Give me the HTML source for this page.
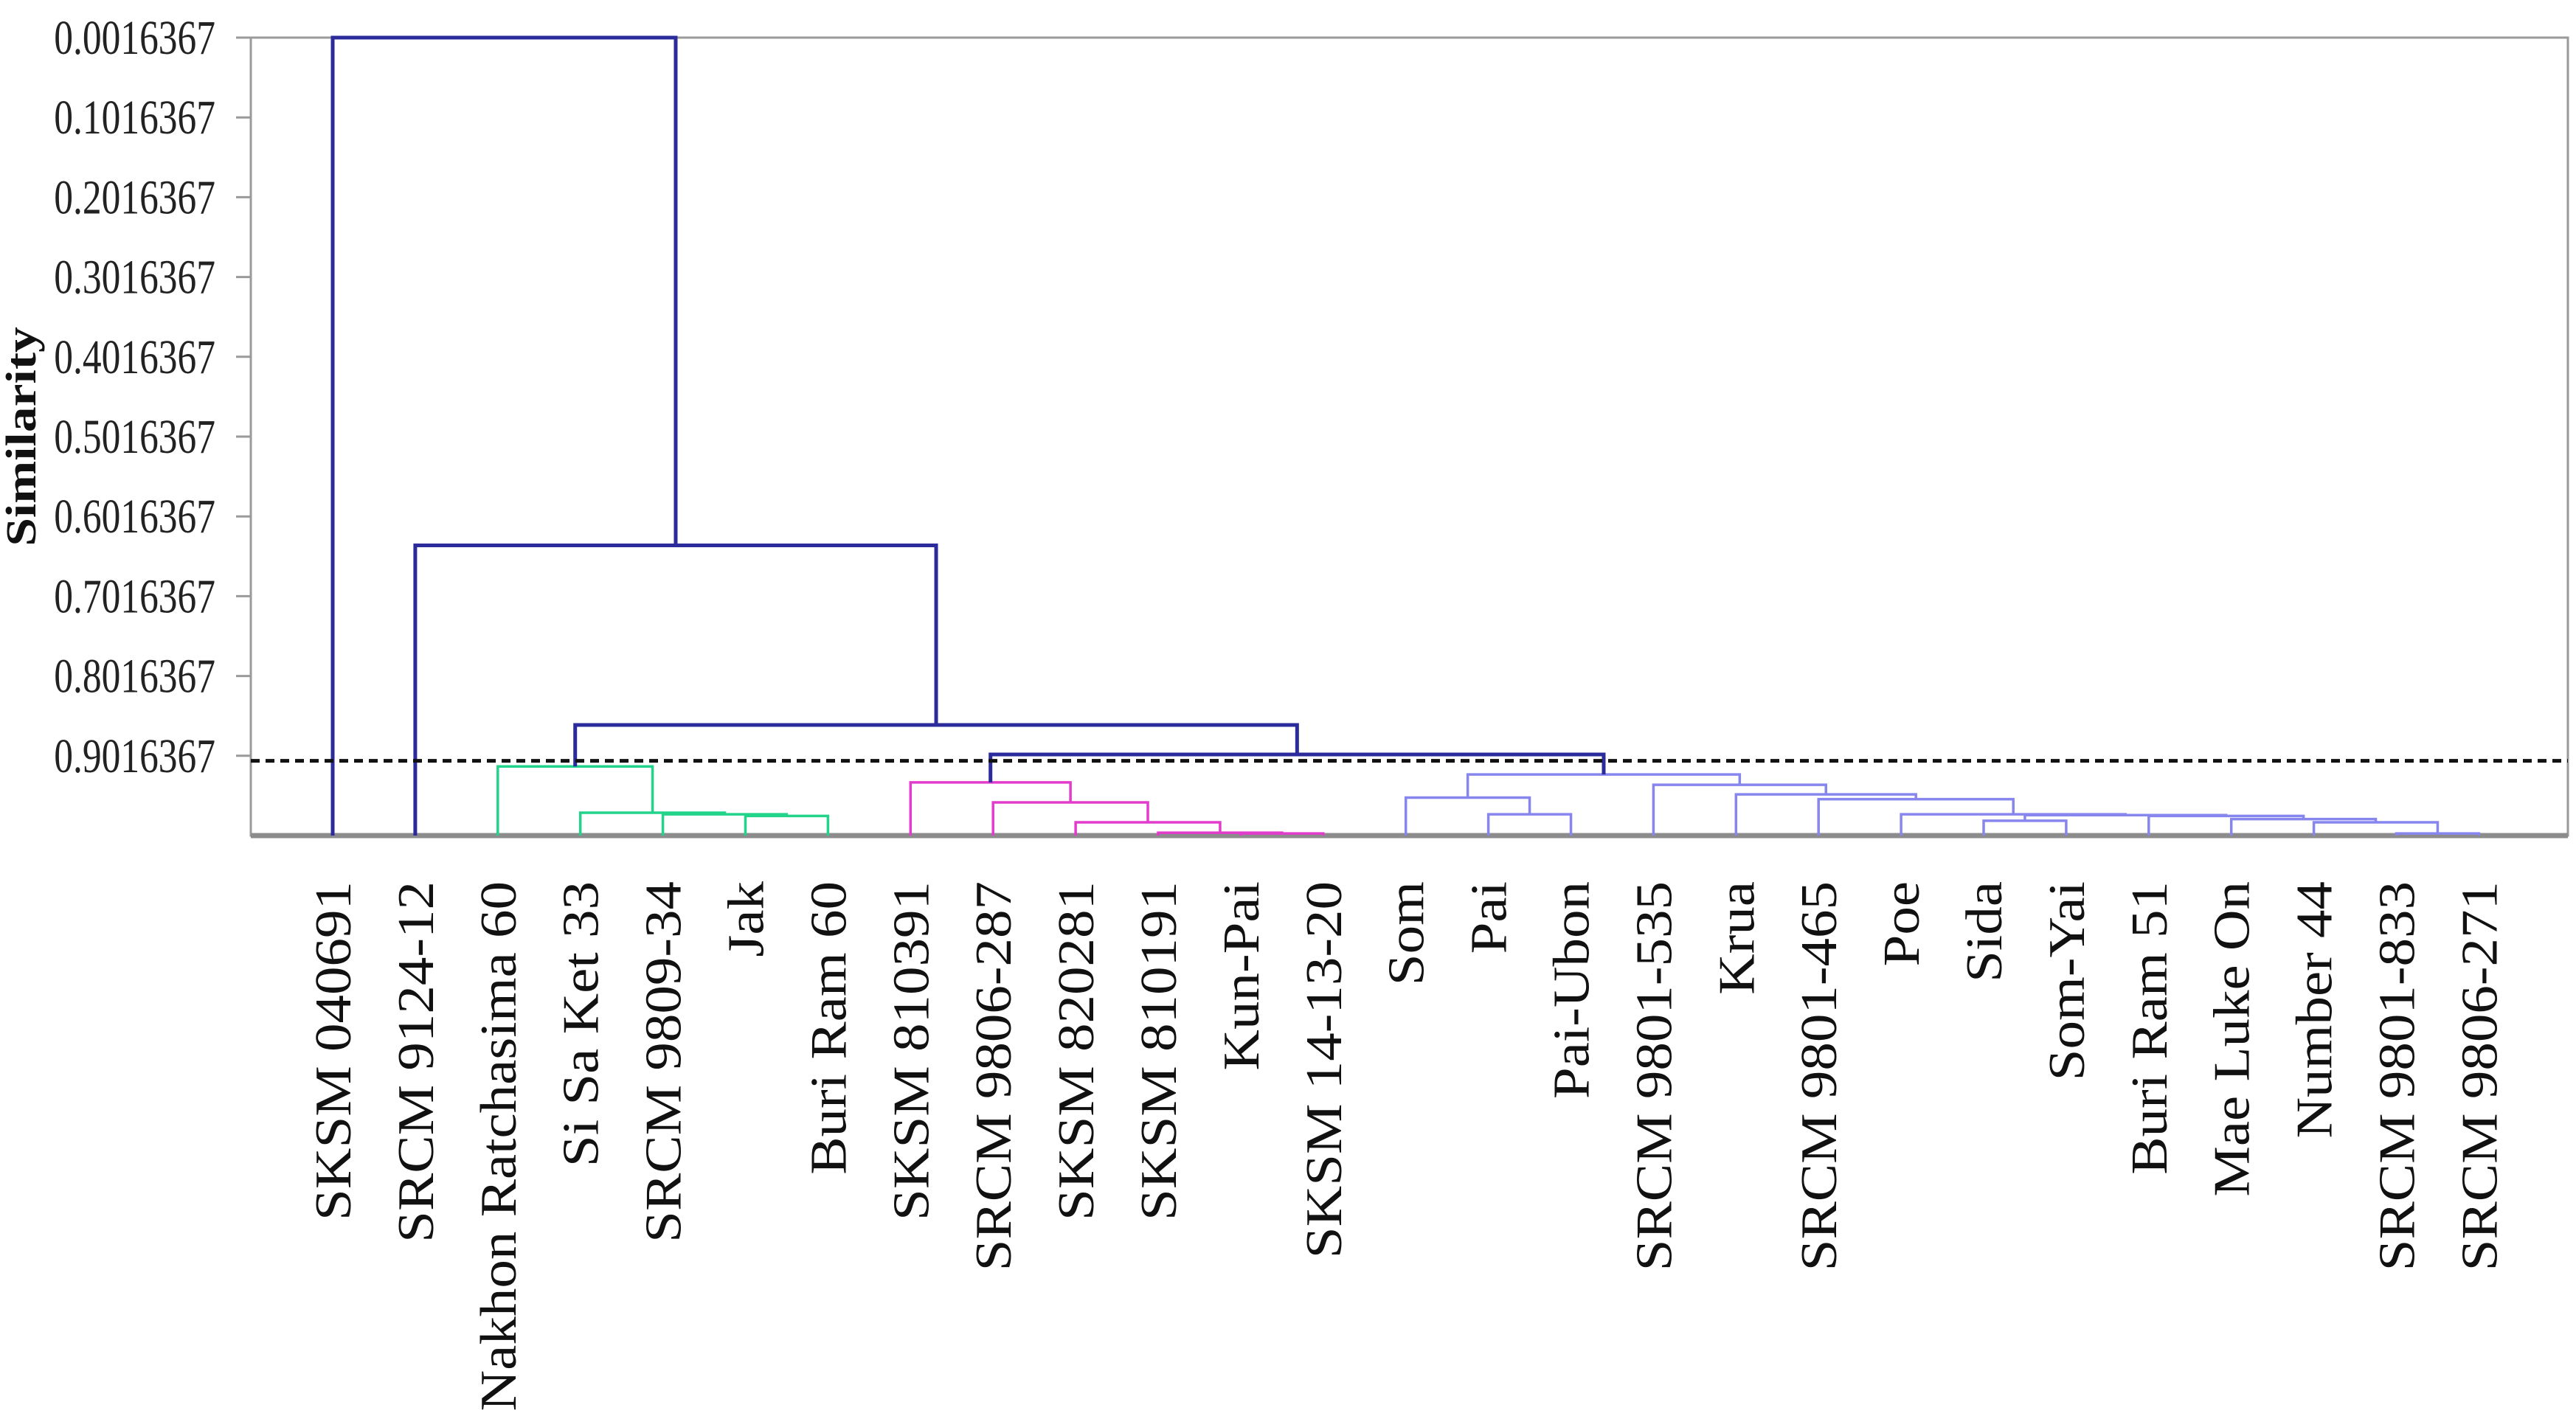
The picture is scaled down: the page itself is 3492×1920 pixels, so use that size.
<!DOCTYPE html>
<html><head><meta charset="utf-8"><style>
html,body{margin:0;padding:0;background:#fff;}
svg{display:block;}
</style></head><body>
<svg id="chart" width="3492" height="1920" xmlns="http://www.w3.org/2000/svg"></svg>
<script>
const leafNames = ["SKSM 040691","SRCM 9124-12","Nakhon Ratchasima 60","Si Sa Ket 33","SRCM 9809-34","Jak","Buri Ram 60","SKSM 810391","SRCM 9806-287","SKSM 820281","SKSM 810191","Kun-Pai","SKSM 14-13-20","Som","Pai","Pai-Ubon","SRCM 9801-535","Krua","SRCM 9801-465","Poe","Sida","Som-Yai","Buri Ram 51","Mae Luke On","Number 44","SRCM 9801-833","SRCM 9806-271"];
const mergeLeft  = [5,4,3,2,11,10,9,8,7,14,13,25,24,23,22,20,42,19,18,17,16,37,35,30,1,0];
const mergeRight = [6,27,28,29,12,31,32,33,34,15,36,26,38,39,40,21,41,43,44,45,46,47,48,49,50,51];
const mergeHeight = [0.977,0.975,0.973,0.915,0.999,0.998,0.985,0.960,0.935,0.975,0.954,0.999,0.985,0.981,0.977,0.983,0.976,0.975,0.956,0.950,0.938,0.925,0.900,0.863,0.638,0.0016367];
const mergeGroup = ["g","g","g","g","p","p","p","p","p","b","b","b","b","b","b","b","b","b","b","b","b","b","d","d","d","d"];
const tickValues = [0.0016367,0.1016367,0.2016367,0.3016367,0.4016367,0.5016367,0.6016367,0.7016367,0.8016367,0.9016367];
const tickLabels = ["0.0016367","0.1016367","0.2016367","0.3016367","0.4016367","0.5016367","0.6016367","0.7016367","0.8016367","0.9016367"];
const cutoff = [0.908];

const NS="http://www.w3.org/2000/svg";
const svg=document.getElementById('chart');
const X0=340,X1=3481,Y0=51,Y1=1133;
const yMin=0.0016367,yMax=1.0016367;
function yScale(v){return Y0+(v-yMin)/(yMax-yMin)*(Y1-Y0);}
function xLeaf(i){return 451+i*111.9;}
const colors={g:"#22d38a",p:"#e23ccc",b:"#8686ee",d:"#2b2b9c"};
const widths={g:3.5,p:3.5,b:3.5,d:5};
function mk(tag,attrs){const e=document.createElementNS(NS,tag);for(const k in attrs)e.setAttribute(k,attrs[k]);svg.appendChild(e);return e;}

let f=mk('rect',{x:X0,y:Y0,width:X1-X0,height:Y1-Y0,fill:'none',stroke:'#9a9a9a','stroke-width':3});


let bx=mk('line',{x1:X0,y1:Y1,x2:X1,y2:Y1,stroke:'#8c8c8c','stroke-width':7});



tickValues.forEach((v,i)=>{
  const y=yScale(v);
  const t=mk('line',{x1:X0-20,y1:y,x2:X0,y2:y,stroke:'#9a9a9a','stroke-width':3});
  
  
  const tx=mk('text',{x:0,y:0,'font-family':'Liberation Serif, serif','font-size':66,'text-anchor':'end',fill:'#222',transform:`translate(292,${y+22}) scale(0.78,1)`});
  tx.textContent=tickLabels[i];
  
  
});

const at=mk('text',{x:0,y:0,'font-family':'Liberation Serif, serif','font-size':58,'font-weight':'bold','text-anchor':'middle',fill:'#111',transform:'translate(48,592) rotate(-90) scale(1.2,1)'});
at.textContent='Similarity';



const nodeX=leafNames.map((_,i)=>xLeaf(i));
const nodeH=leafNames.map(()=>yMax);
for(let k=0;k<mergeLeft.length;k++){
  const a=mergeLeft[k],b=mergeRight[k],h=mergeHeight[k];
  const xa=nodeX[a],xb=nodeX[b],y=yScale(h);
  const c=colors[mergeGroup[k]],w=widths[mergeGroup[k]];
  const p=mk('path',{d:`M${xa},${yScale(nodeH[a])}V${y}H${xb}V${yScale(nodeH[b])}`,fill:'none',stroke:c,'stroke-width':w});
  
  
  nodeX.push((xa+xb)/2);nodeH.push(h);
}

const cy=yScale(cutoff[0]);
const cl=mk('line',{x1:X0,y1:cy,x2:X1,y2:cy,stroke:'#111','stroke-width':5,'stroke-dasharray':'12,8'});



leafNames.forEach((n,i)=>{
  const t=mk('text',{x:0,y:0,'font-family':'Liberation Serif, serif','font-size':70,'text-anchor':'end',fill:'#111',transform:`translate(${xLeaf(i)+24},1195) rotate(-90) scale(1.1,1)`});
  t.textContent=n;
  
  
});
</script>
</body></html>
